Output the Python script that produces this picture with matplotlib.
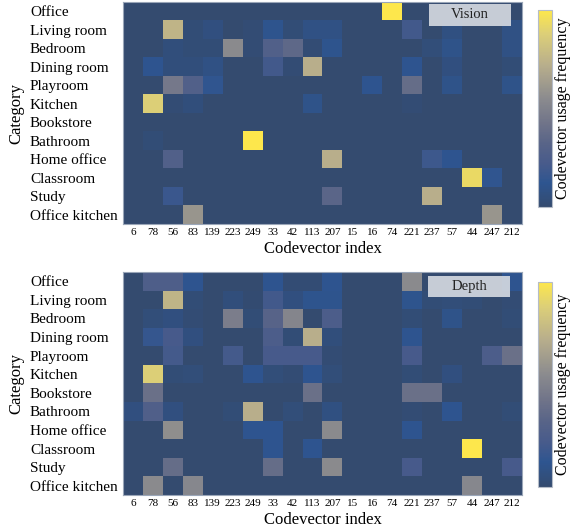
import numpy as np
import matplotlib
matplotlib.use("Agg")
import matplotlib.pyplot as plt
from matplotlib.colors import LinearSegmentedColormap

plt.rcParams['font.family'] = ['Liberation Serif', 'DejaVu Serif']

categories = ["Office", "Living room", "Bedroom", "Dining room", "Playroom", "Kitchen",
              "Bookstore", "Bathroom", "Home office", "Classroom", "Study", "Office kitchen"]
codevectors = ["6", "78", "56", "83", "139", "223", "249", "33", "42", "113",
               "207", "15", "16", "74", "221", "237", "57", "44", "247", "212"]

# Normalised usage frequency, rows = categories, columns = codevectors
vision = np.array([
    # 6    78    56    83   139   223   249    33    42   113   207    15    16    74   221   237    57    44   247   212
    [0.00, 0.00, 0.00, 0.00, 0.00, 0.00, 0.00, 0.00, 0.00, 0.00, 0.00, 0.00, 0.00, 1.00, 0.00, 0.00, 0.00, 0.00, 0.00, 0.00],
    [0.00, 0.00, 0.75, 0.03, 0.06, 0.00, 0.02, 0.11, 0.03, 0.08, 0.08, 0.00, 0.00, 0.00, 0.20, 0.00, 0.07, 0.00, 0.00, 0.08],
    [0.00, 0.00, 0.05, 0.03, 0.03, 0.55, 0.02, 0.28, 0.35, 0.02, 0.11, 0.00, 0.00, 0.00, 0.00, 0.04, 0.10, 0.00, 0.00, 0.08],
    [0.00, 0.12, 0.05, 0.05, 0.08, 0.00, 0.00, 0.20, 0.02, 0.72, 0.00, 0.00, 0.00, 0.00, 0.12, 0.00, 0.06, 0.00, 0.00, 0.03],
    [0.00, 0.00, 0.45, 0.28, 0.13, 0.00, 0.00, 0.00, 0.00, 0.00, 0.00, 0.00, 0.12, 0.00, 0.38, 0.00, 0.10, 0.00, 0.00, 0.10],
    [0.00, 0.88, 0.02, 0.05, 0.00, 0.00, 0.00, 0.00, 0.00, 0.10, 0.00, 0.00, 0.00, 0.00, 0.02, 0.00, 0.00, 0.00, 0.00, 0.00],
    [0.00, 0.00, 0.00, 0.00, 0.00, 0.00, 0.00, 0.00, 0.00, 0.00, 0.00, 0.00, 0.00, 0.00, 0.00, 0.00, 0.00, 0.00, 0.00, 0.00],
    [0.00, 0.03, 0.00, 0.00, 0.00, 0.00, 1.00, 0.00, 0.00, 0.00, 0.00, 0.00, 0.00, 0.00, 0.00, 0.00, 0.00, 0.00, 0.00, 0.00],
    [0.00, 0.00, 0.28, 0.00, 0.00, 0.00, 0.00, 0.00, 0.00, 0.00, 0.72, 0.00, 0.00, 0.00, 0.00, 0.18, 0.12, 0.00, 0.00, 0.00],
    [0.00, 0.00, 0.00, 0.00, 0.00, 0.00, 0.00, 0.00, 0.00, 0.00, 0.00, 0.00, 0.00, 0.00, 0.00, 0.00, 0.00, 0.93, 0.13, 0.00],
    [0.00, 0.00, 0.17, 0.00, 0.00, 0.00, 0.00, 0.00, 0.00, 0.00, 0.33, 0.00, 0.00, 0.00, 0.00, 0.72, 0.00, 0.00, 0.00, 0.00],
    [0.00, 0.00, 0.00, 0.60, 0.00, 0.00, 0.00, 0.00, 0.00, 0.00, 0.00, 0.00, 0.00, 0.00, 0.00, 0.00, 0.00, 0.00, 0.60, 0.00],
])

depth = np.array([
    # 6    78    56    83   139   223   249    33    42   113   207    15    16    74   221   237    57    44   247   212
    [0.00, 0.26, 0.26, 0.12, 0.00, 0.00, 0.00, 0.12, 0.02, 0.02, 0.12, 0.00, 0.00, 0.00, 0.55, 0.00, 0.00, 0.00, 0.00, 0.12],
    [0.00, 0.00, 0.75, 0.03, 0.00, 0.05, 0.01, 0.20, 0.06, 0.11, 0.11, 0.00, 0.00, 0.00, 0.11, 0.03, 0.04, 0.03, 0.00, 0.02],
    [0.00, 0.04, 0.06, 0.02, 0.00, 0.48, 0.03, 0.32, 0.52, 0.00, 0.25, 0.00, 0.00, 0.00, 0.03, 0.00, 0.10, 0.00, 0.00, 0.03],
    [0.00, 0.15, 0.22, 0.06, 0.00, 0.00, 0.00, 0.25, 0.03, 0.72, 0.05, 0.00, 0.00, 0.00, 0.12, 0.00, 0.00, 0.00, 0.00, 0.00],
    [0.00, 0.00, 0.21, 0.00, 0.00, 0.21, 0.00, 0.22, 0.22, 0.22, 0.02, 0.00, 0.00, 0.00, 0.22, 0.00, 0.00, 0.00, 0.25, 0.40],
    [0.00, 0.88, 0.03, 0.04, 0.00, 0.00, 0.12, 0.04, 0.02, 0.12, 0.04, 0.00, 0.00, 0.00, 0.03, 0.00, 0.06, 0.00, 0.00, 0.00],
    [0.00, 0.40, 0.00, 0.00, 0.00, 0.00, 0.00, 0.00, 0.00, 0.40, 0.00, 0.00, 0.00, 0.00, 0.40, 0.40, 0.00, 0.00, 0.00, 0.00],
    [0.06, 0.27, 0.06, 0.00, 0.00, 0.03, 0.72, 0.00, 0.04, 0.00, 0.07, 0.00, 0.00, 0.00, 0.02, 0.00, 0.12, 0.00, 0.00, 0.03],
    [0.00, 0.00, 0.57, 0.00, 0.00, 0.00, 0.12, 0.12, 0.00, 0.00, 0.55, 0.00, 0.00, 0.00, 0.12, 0.00, 0.00, 0.00, 0.00, 0.00],
    [0.00, 0.00, 0.00, 0.00, 0.00, 0.00, 0.00, 0.12, 0.00, 0.12, 0.00, 0.00, 0.00, 0.00, 0.00, 0.00, 0.00, 1.00, 0.00, 0.00],
    [0.00, 0.00, 0.38, 0.00, 0.00, 0.00, 0.00, 0.38, 0.00, 0.00, 0.55, 0.00, 0.00, 0.00, 0.22, 0.00, 0.00, 0.00, 0.00, 0.22],
    [0.00, 0.55, 0.00, 0.53, 0.00, 0.00, 0.00, 0.00, 0.00, 0.00, 0.00, 0.00, 0.00, 0.00, 0.00, 0.00, 0.00, 0.53, 0.00, 0.00],
])

panel_titles = ["Vision", "Depth"]

cmap = LinearSegmentedColormap.from_list("usage", [
    (0.00, "#344b6f"),
    (0.12, "#2e5590"),
    (0.22, "#485b8b"),
    (0.32, "#586488"),
    (0.42, "#6f7389"),
    (0.55, "#8b8b8e"),
    (0.72, "#b8ae8c"),
    (0.88, "#dccf78"),
    (1.00, "#fde74c"),
])

W, H = 572, 531
fig = plt.figure(figsize=(W / 100, H / 100), dpi=100)

def frac(x0, y0, x1, y1):
    return [x0 / W, 1 - y1 / H, (x1 - x0) / W, (y1 - y0) / H]

axes_px = [(123, 2, 522, 224), (123, 272, 522, 495)]
cbar_px = [(538, 10, 552, 207), (538, 282, 552, 487)]
label_px = [(429, 4, 511, 26), (428, 276, 510, 297)]

# category labels start this far left of the heatmap (in points)
label_pad_pt = (123 - 30) * 72 / 100

for data, title, apx, cpx, lpx in zip([vision, depth], panel_titles, axes_px, cbar_px, label_px):
    ax = fig.add_axes(frac(*apx))
    im = ax.imshow(data, cmap=cmap, vmin=0, vmax=1, aspect="auto", interpolation="nearest")
    ax.set_xticks(range(len(codevectors)))
    ax.set_xticklabels(codevectors, fontsize=8)
    ax.set_yticks(range(len(categories)))
    ax.set_yticklabels(categories, fontsize=11, ha="left")
    ax.tick_params(length=0)
    ax.tick_params(axis="x", pad=3)
    ax.tick_params(axis="y", pad=label_pad_pt)
    ax.set_xlabel("Codevector index", fontsize=12, labelpad=3)
    ax.set_ylabel("Category", fontsize=12, labelpad=4)
    for s in ax.spines.values():
        s.set_color("#9aa6b8")
        s.set_linewidth(0.8)

    # panel label box
    box = fig.add_axes(frac(*lpx))
    box.set_xticks([]); box.set_yticks([])
    box.patch.set_facecolor("#d3d8e0")
    box.patch.set_alpha(0.92)
    for s in box.spines.values():
        s.set_visible(False)
    box.text(0.5, 0.5, title, ha="center", va="center", fontsize=10.5, color="#222222",
             transform=box.transAxes)

    cax = fig.add_axes(frac(*cpx))
    cb = fig.colorbar(im, cax=cax)
    cb.set_ticks([])
    cb.outline.set_edgecolor("#b5bcc8")
    cb.outline.set_linewidth(0.8)
    cb.set_label("Codevector usage frequency", fontsize=11.5, labelpad=2)

fig.savefig("out.png", dpi=100)
